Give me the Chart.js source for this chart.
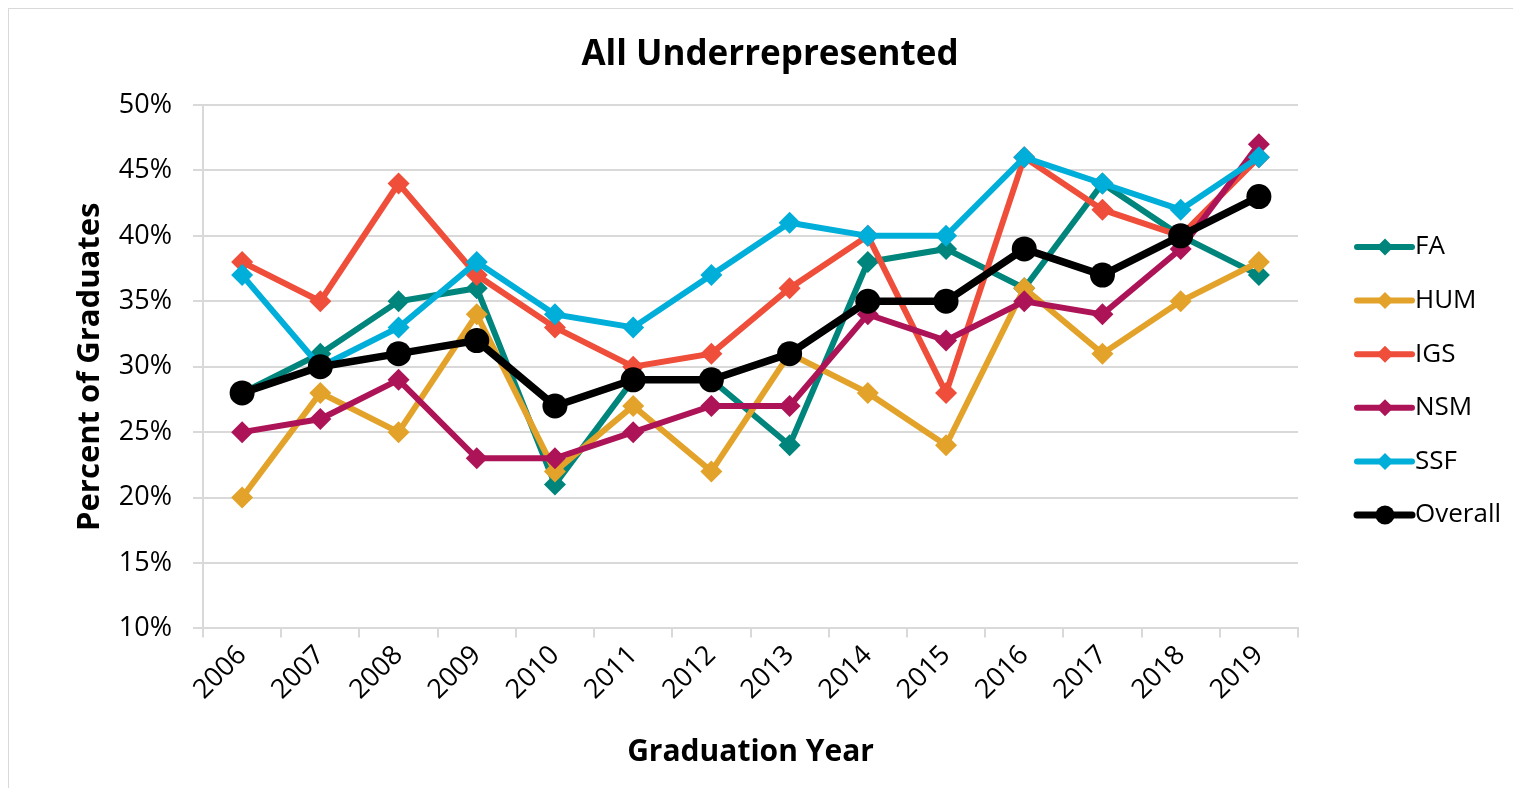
<!DOCTYPE html>
<html>
<head>
<meta charset="utf-8">
<script src="https://cdn.jsdelivr.net/npm/chart.js@4"></script>
<style>
html,body{margin:0;padding:0;background:#fff;}
#wrap{position:relative;width:1513px;height:788px;}
</style>
</head>
<body>
<div id="wrap"><canvas id="c" width="1513" height="788"></canvas></div>
<script>
const years = ['2006','2007','2008','2009','2010','2011','2012','2013','2014','2015','2016','2017','2018','2019'];
const FA      = [28, 31, 35, 36, 21, 29, 29, 24, 38, 39, 36, 44, 40, 37];
const HUM     = [20, 28, 25, 34, 22, 27, 22, 31, 28, 24, 36, 31, 35, 38];
const IGS     = [38, 35, 44, 37, 33, 30, 31, 36, 40, 28, 46, 42, 40, 46];
const NSM     = [25, 26, 29, 23, 23, 25, 27, 27, 34, 32, 35, 34, 39, 47];
const SSF     = [37, 30, 33, 38, 34, 33, 37, 41, 40, 40, 46, 44, 42, 46];
const Overall = [28, 30, 31, 32, 27, 29, 29, 31, 35, 35, 39, 37, 40, 43];
const yTicks = [10, 15, 20, 25, 30, 35, 40, 45, 50];
const chartTitle = 'All Underrepresented';

const FONT = "'Open Sans', sans-serif";

function series(label, data, color, overall) {
  return {
    label, data,
    borderColor: color, backgroundColor: color,
    borderWidth: overall ? 7.5 : 6,
    pointStyle: overall ? 'circle' : 'rectRot',
    pointRadius: overall ? 12.5 : 11,
    pointHoverRadius: overall ? 12.5 : 11,
    pointBorderWidth: 0,
    tension: 0,
    fill: false
  };
}

const datasets = [
  series('FA', FA, '#00857C'),
  series('HUM', HUM, '#E3A229'),
  series('IGS', IGS, '#EE4E3A'),
  series('NSM', NSM, '#AD1457'),
  series('SSF', SSF, '#00AEDA'),
  series('Overall', Overall, '#000000', true)
];
datasets.forEach((d, i) => d.order = datasets.length - i);

const frameTitleLegend = {
  id: 'frameTitleLegend',
  beforeDraw(chart) {
    const ctx = chart.ctx;
    ctx.save();
    ctx.fillStyle = '#fff';
    ctx.fillRect(0, 0, chart.width, chart.height);
    ctx.strokeStyle = '#d9d9d9';
    ctx.lineWidth = 1;
    ctx.strokeRect(8.5, 8.5, chart.width, chart.height);
    ctx.fillStyle = '#000';
    ctx.font = "bold 35px " + FONT;
    ctx.textAlign = 'center';
    ctx.textBaseline = 'middle';
    ctx.fillText(chartTitle, 770, 55);
    ctx.restore();
  },
  afterDraw(chart) {
    const ctx = chart.ctx;
    const ca = chart.chartArea;
    const x0 = ca.right + 59;
    ctx.save();
    ctx.font = "26px " + FONT;
    ctx.textBaseline = 'middle';
    ctx.textAlign = 'left';
    chart.data.datasets.forEach((ds, i) => {
      const y = 247 + i * 53.6;
      ctx.strokeStyle = ds.borderColor;
      ctx.lineWidth = ds.pointStyle === 'circle' ? 7 : 6;
      ctx.lineCap = 'round';
      ctx.beginPath();
      ctx.moveTo(x0, y);
      ctx.lineTo(x0 + 55, y);
      ctx.stroke();
      ctx.fillStyle = ds.borderColor;
      const mx = x0 + 28;
      if (ds.pointStyle === 'circle') {
        ctx.beginPath();
        ctx.arc(mx, y, 9.5, 0, Math.PI * 2);
        ctx.fill();
      } else {
        const r = 8.5;
        ctx.beginPath();
        ctx.moveTo(mx, y - r);
        ctx.lineTo(mx + r, y);
        ctx.lineTo(mx, y + r);
        ctx.lineTo(mx - r, y);
        ctx.closePath();
        ctx.fill();
      }
      ctx.fillStyle = '#000';
      ctx.fillText(ds.label, x0 + 58, y);
    });
    ctx.restore();
  }
};

new Chart(document.getElementById('c'), {
  type: 'line',
  data: { labels: years, datasets },
  options: {
    responsive: false,
    animation: false,
    events: [],
    layout: { padding: { left: 72, right: 215, top: 105, bottom: 18 } },
    plugins: {
      legend: { display: false },
      tooltip: { enabled: false },
      title: { display: false }
    },
    scales: {
      x: {
        type: 'category',
        offset: true,
        grid: {
          display: true,
          offset: true,
          drawOnChartArea: false,
          drawTicks: true,
          tickLength: 9,
          color: '#d9d9d9',
          lineWidth: 2
        },
        border: { display: true, color: '#d9d9d9', width: 2 },
        ticks: {
          color: '#000',
          font: { family: FONT, size: 27 },
          maxRotation: 45, minRotation: 45,
          padding: 2,
          autoSkip: false
        },
        title: {
          display: true,
          text: 'Graduation Year',
          color: '#000',
          font: { family: FONT, size: 30, weight: 'bold' },
          padding: { top: 26, bottom: 0 }
        }
      },
      y: {
        min: yTicks[0], max: yTicks[yTicks.length - 1],
        afterBuildTicks(axis) { axis.ticks = yTicks.map(v => ({ value: v })); },
        afterFit(axis) { axis.width = 131; },
        grid: { color: '#d9d9d9', lineWidth: 2, drawTicks: true, tickLength: 10 },
        border: { display: true, color: '#d9d9d9', width: 2 },
        ticks: {
          color: '#000',
          font: { family: FONT, size: 27 },
          padding: 21,
          callback: v => v + '%'
        },
        title: {
          display: true,
          text: 'Percent of Graduates',
          color: '#000',
          font: { family: FONT, size: 31, weight: 'bold' },
          padding: { top: 0, bottom: 11 }
        }
      }
    }
  },
  plugins: [frameTitleLegend]
});
</script>
</body>
</html>
